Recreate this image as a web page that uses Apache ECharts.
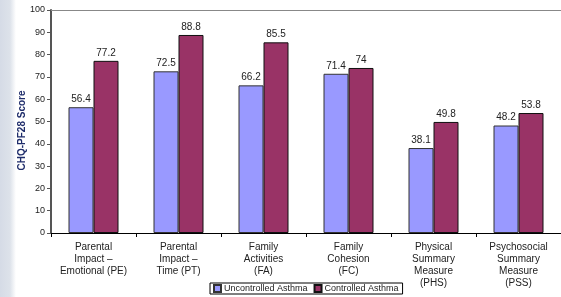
<!DOCTYPE html>
<html>
<head>
<meta charset="UTF-8">
<title></title>
<script src="https://cdn.jsdelivr.net/npm/echarts@6/dist/echarts.min.js"></script>
<style>
  html, body { margin: 0; padding: 0; }
  body { background: linear-gradient(to right, #d5dbe6 0px, #dde2ea 10px, #ffffff 16px); }
  #chart { width: 561px; height: 297px; }
</style>
</head>
<body>
<div id="chart"></div>
<script>
  var categories = [
    'Parental\nImpact \u2013\nEmotional (PE)',
    'Parental\nImpact \u2013\nTime (PT)',
    'Family\nActivities\n(FA)',
    'Family\nCohesion\n(FC)',
    'Physical\nSummary\nMeasure\n(PHS)',
    'Psychosocial\nSummary\nMeasure\n(PSS)'
  ];
  var uncontrolled = [56.4, 72.5, 66.2, 71.4, 38.1, 48.2];
  var controlled = [77.2, 88.8, 85.5, 74, 49.8, 53.8];

  var font = 'Liberation Sans, Arial, sans-serif';
  var labelStyle = { show: true, position: 'top', distance: 3, color: '#222', fontSize: 10, fontFamily: font };

  var myChart = echarts.init(document.getElementById('chart'));
  myChart.setOption({
    animation: false,
    grid: { left: 51, right: 0, top: 10, bottom: 64 },
    legend: {
      data: ['Uncontrolled Asthma', 'Controlled Asthma'],
      left: 210, top: 283,
      icon: 'rect', itemWidth: 7, itemHeight: 7, itemGap: 6,
      borderColor: '#000', borderWidth: 1, padding: [1, 4, 1, 3],
      textStyle: { fontSize: 9, color: '#222', fontFamily: font, padding: [0, 0, 0, -2] }
    },
    xAxis: [{
      type: 'category',
      data: categories,
      axisLine: { lineStyle: { color: '#000', width: 1 } },
      axisTick: { show: true, length: 4, lineStyle: { color: '#000' } },
      axisLabel: { color: '#222', fontSize: 10, fontFamily: font, lineHeight: 12, margin: 8, interval: 0 }
    }, {
      type: 'category',
      position: 'top',
      data: categories,
      axisLine: { show: true, lineStyle: { color: '#888', width: 1 } },
      axisTick: { show: false },
      axisLabel: { show: false }
    }],
    yAxis: {
      type: 'value',
      min: 0, max: 100, interval: 10,
      name: 'CHQ-PF28 Score',
      nameLocation: 'middle',
      nameGap: 24,
      nameMoveOverlap: false,
      nameTextStyle: { color: '#1f2d6b', fontWeight: 'bold', fontSize: 10, fontFamily: font, padding: [0, 18, 0, 0] },
      axisLine: { show: true, lineStyle: { color: '#555', width: 2 } },
      axisTick: { show: true, length: 4, lineStyle: { color: '#555' } },
      axisLabel: { color: '#222', fontSize: 9, fontFamily: font, margin: 6 },
      splitLine: { show: false }
    },
    series: [{
      name: 'Uncontrolled Asthma',
      type: 'bar',
      data: uncontrolled,
      barWidth: 25,
      barGap: '0%',
      itemStyle: { color: '#9999ff', borderColor: '#333', borderWidth: 1 },
      label: labelStyle
    }, {
      name: 'Controlled Asthma',
      type: 'bar',
      data: controlled,
      barWidth: 25,
      itemStyle: { color: '#993366', borderColor: '#111', borderWidth: 1 },
      label: labelStyle
    }]
  });
</script>
</body>
</html>
